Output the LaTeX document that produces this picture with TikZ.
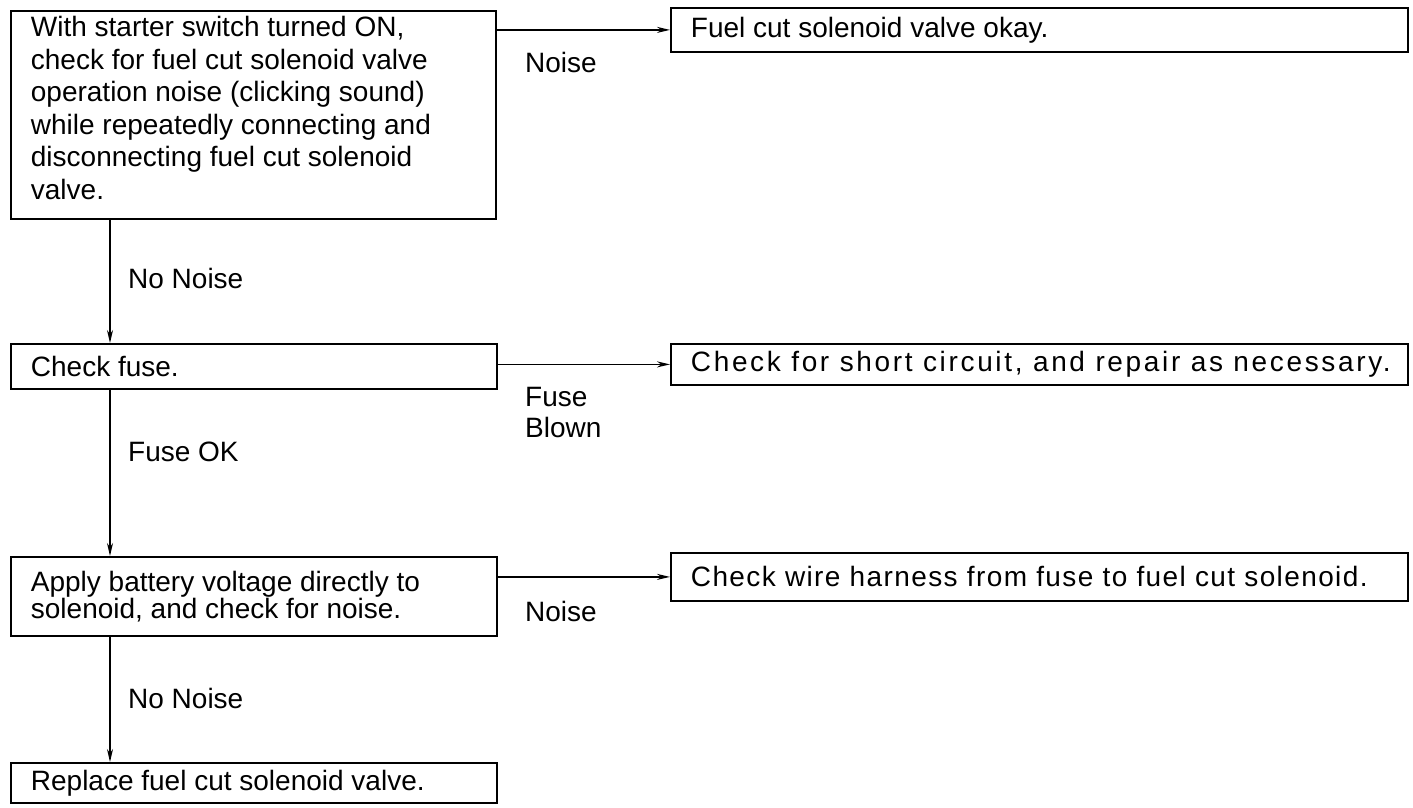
\documentclass[tikz,border=0pt]{standalone}
\usepackage{fontspec}
\setmainfont{Liberation Sans}
\usetikzlibrary{arrows.meta,calc}
\newcommand{\boxtxt}[5]{\parbox[c][#2][#3]{#1}{\fontsize{28}{#4}\selectfont\raggedright\leftskip=20pt\relax #5\par}}
\begin{document}
\begin{tikzpicture}[x=1pt,y=1pt,
  box/.style={draw, line width=1.8pt, inner sep=0pt, anchor=north west},
  arr/.style={line width=1.5pt, -{Stealth[length=13pt,width=6pt]}},
  lbl/.style={anchor=base west, inner sep=0pt, font=\fontsize{28}{31}\selectfont, align=left}]
\useasboundingbox (0,0) rectangle (1413,-808);
% boxes
\node[box] (b1) at (10,-10) {\boxtxt{485pt}{208pt}{t}{32.5pt}{\rule{0pt}{26pt}With starter switch turned ON,\\check for fuel cut solenoid valve\\operation noise (clicking sound)\\while repeatedly connecting and\\disconnecting fuel cut solenoid\\valve.}};
\node[box] (b2) at (670,-7) {\boxtxt{737pt}{44pt}{c}{28pt}{Fuel cut solenoid valve okay.}};
\node[box] (b3) at (10,-343) {\boxtxt{486pt}{45pt}{c}{28pt}{Check fuse.}};
\node[box] (b4) at (670,-343) {\boxtxt{737pt}{41pt}{c}{28pt}{\addfontfeature{LetterSpace=9.5}Check for short circuit, and repair as necessary.}};
\node[box] (b5) at (10,-556) {\boxtxt{486pt}{79pt}{c}{26pt}{Apply battery voltage directly to\\solenoid, and check for noise.}};
\node[box] (b6) at (670,-552) {\boxtxt{737pt}{48pt}{c}{28pt}{\addfontfeature{LetterSpace=5}Check wire harness from fuse to fuel cut solenoid.}};
\node[box] (b7) at (10,-762) {\boxtxt{486pt}{40pt}{c}{28pt}{Replace fuel cut solenoid valve.}};
% labels
\node[lbl] (l1) at (525,-72) {Noise};
\node[lbl] (l2) at (128,-288) {No Noise};
\node[lbl,anchor=north west] (l3) at (525,-387) {Fuse\\Blown};
\node[lbl] (l4) at (128,-461) {Fuse OK};
\node[lbl] (l5) at (525,-621) {Noise};
\node[lbl] (l6) at (128,-708) {No Noise};
% horizontal connectors
\draw[arr] (b2.west -| b1.east) -- (b2.west);
\draw[arr] (b4.west -| b3.east) -- (b4.west);
\draw[arr] (b6.west -| b5.east) -- (b6.west);
% vertical connectors
\coordinate (v1) at ([xshift=100pt]b1.south west);
\coordinate (v2) at ([xshift=100pt]b3.south west);
\coordinate (v3) at ([xshift=100pt]b5.south west);
\draw[arr] (v1) -- (v1 |- b3.north);
\draw[arr] (v2) -- (v2 |- b5.north);
\draw[arr] (v3) -- (v3 |- b7.north);
\end{tikzpicture}
\end{document}
